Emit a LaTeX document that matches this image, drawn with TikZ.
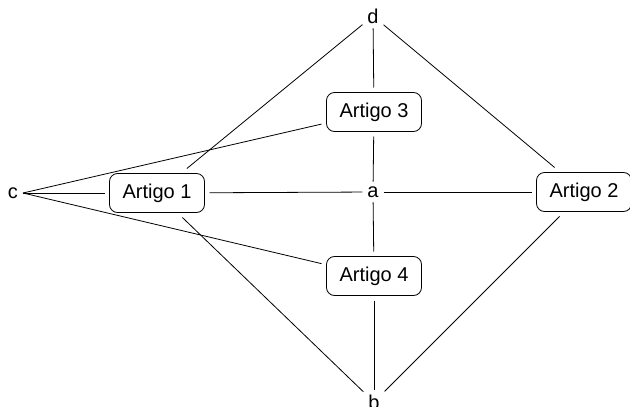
\documentclass[tikz,border=0pt]{standalone}
\usepackage{fontspec}
\setmainfont{Liberation Sans}
\begin{document}
\begin{tikzpicture}[x=1pt,y=-1pt,
  artbox/.style={draw, rounded corners=8pt, minimum width=95pt, minimum height=39pt,
    inner sep=0pt, outer sep=5pt, font=\fontsize{20}{23}\selectfont, line width=0.8pt},
  letter/.style={inner sep=3pt, outer sep=2pt, font=\fontsize{20}{23}\selectfont},
  link/.style={line width=0.8pt}]
\useasboundingbox (0,0) rectangle (630,407);
\node[letter] (c) at (13,193) {c};
\node[letter] (a) at (373,192) {a};
\node[letter] (d) at (373,16) {d};
\node[letter] (b) at (374,402) {b};
\node[artbox] (a1) at (157,193) {Artigo 1};
\node[artbox] (a2) at (584,192) {Artigo 2};
\node[artbox] (a3) at (374,112) {Artigo 3};
\node[artbox] (a4) at (374,276) {Artigo 4};
\draw[link] (c) -- (a1);
\draw[link] (c.east) -- (a3);
\draw[link] (c.east) -- (a4);
\draw[link] (a1) -- (a);
\draw[link] (a) -- (a2);
\draw[link] (a1) -- (d);
\draw[link] (a1) -- (b);
\draw[link] (d) -- (a3);
\draw[link] (d) -- (a2);
\draw[link] (a3) -- (a);
\draw[link] (a) -- (a4);
\draw[link] (a4) -- (b);
\draw[link] (b) -- (a2);
\end{tikzpicture}
\end{document}
